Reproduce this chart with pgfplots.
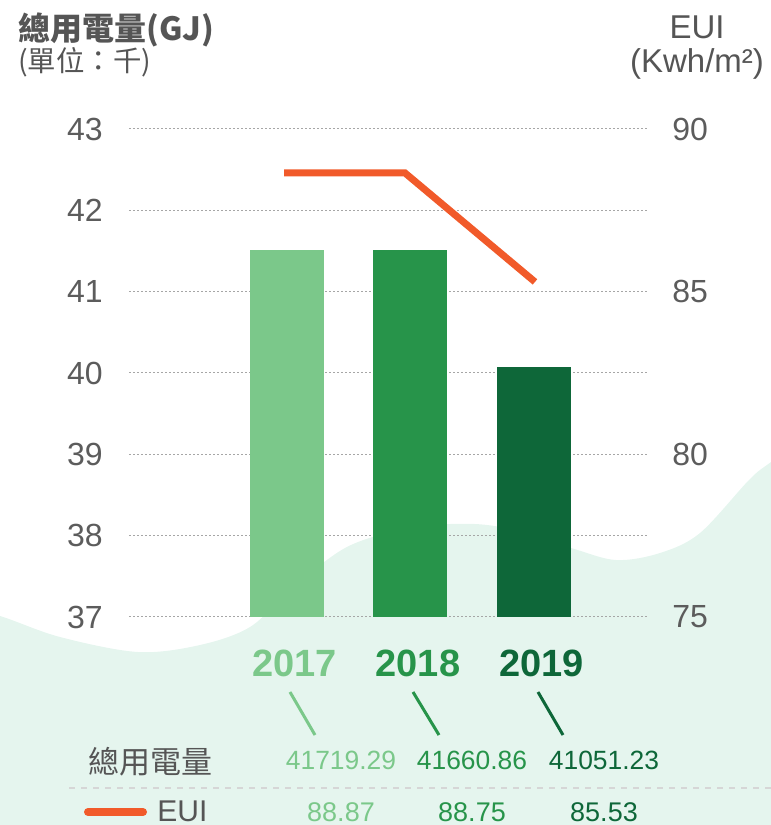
\documentclass[border=0pt]{standalone}
\usepackage{pgfplots}
\pgfplotsset{compat=1.18}
\usepackage{fontspec}
\setmainfont{Liberation Sans}
\newfontfamily\cjk{Noto Sans CJK TC}

\definecolor{gA}{HTML}{7BC88A}
\definecolor{gB}{HTML}{27944A}
\definecolor{gC}{HTML}{0E6739}
\definecolor{eui}{HTML}{F15A2A}
\definecolor{wave}{HTML}{E5F5EE}
\definecolor{tgray}{HTML}{555555}
\definecolor{tick}{HTML}{5C5C5C}
\definecolor{sep}{HTML}{D6D6D6}

\begin{document}
\begin{tikzpicture}
\clip (0,0) rectangle (385.5pt,412.5pt);

% background wave and table, in pixel coordinates of the page
\begin{axis}[at={(0,0)}, anchor=south west, scale only axis,
    width=385.5pt, height=412.5pt,
    xmin=0, xmax=771, ymin=0, ymax=825, y dir=reverse,
    hide axis, clip=false]
\addplot[fill=wave, draw=none, smooth, tension=0.55] coordinates {
(-60,600)(0,616)(60,637)(138,652)(200,645)(250,627)(290,590)(345,548)
(400,530)(450,524)(500,527)(571,548)(616,560)(660,553)(700,533)(749,480)
(771,462)(830,420)(840,900)(-60,900)};
% leader lines
\addplot[gA, line width=1.5pt] coordinates {(290,692)(315,735)};
\addplot[gB, line width=1.5pt] coordinates {(413,692)(439,735)};
\addplot[gC, line width=1.5pt] coordinates {(538,692)(563,735)};
% separator
\addplot[sep, dashed, line width=0.6pt] coordinates {(69,788)(771,788)};
% legend line for EUI
\addplot[eui, line width=4pt, line cap=round] coordinates {(88,812)(143,812)};

% titles
\node[anchor=base west, inner sep=0, text=tgray, font=\fontsize{16}{16}\selectfont\cjk\bfseries]
  at (axis cs:18,40) {總用電量(GJ)};
\node[anchor=base west, inner sep=0, text=tgray, font=\fontsize{14.2}{14.2}\selectfont\cjk]
  at (axis cs:18,71) {(單位：千)};
\node[anchor=base, inner sep=0, text=tgray, font=\fontsize{16.5}{16.5}\selectfont]
  at (axis cs:697,38) {EUI};
\node[anchor=base, inner sep=0, text=tgray, font=\fontsize{16.5}{16.5}\selectfont]
  at (axis cs:697,72) {(Kwh/m²)};

% table rows
\node[anchor=west, inner sep=0, text=tgray, font=\fontsize{15.5}{15.5}\selectfont\cjk]
  at (axis cs:88,762) {總用電量};
\node[anchor=base, inner sep=0, text=gA, font=\fontsize{13.2}{13.2}\selectfont] at (axis cs:341,769) {41719.29};
\node[anchor=base, inner sep=0, text=gB, font=\fontsize{13.2}{13.2}\selectfont] at (axis cs:472,769) {41660.86};
\node[anchor=base, inner sep=0, text=gC, font=\fontsize{13.2}{13.2}\selectfont] at (axis cs:604,769) {41051.23};
\node[anchor=base west, inner sep=0, text=tgray, font=\fontsize{15}{15}\selectfont]
  at (axis cs:157,821) {EUI};
\node[anchor=base, inner sep=0, text=gA, font=\fontsize{13.5}{13.5}\selectfont] at (axis cs:341,821) {88.87};
\node[anchor=base, inner sep=0, text=gB, font=\fontsize{13.5}{13.5}\selectfont] at (axis cs:472,821) {88.75};
\node[anchor=base, inner sep=0, text=gC, font=\fontsize{13.5}{13.5}\selectfont] at (axis cs:604,821) {85.53};
\end{axis}

% bars: total electricity (thousand GJ)
\begin{axis}[at={(64.5pt,104pt)}, anchor=south west, scale only axis,
    width=259.5pt, height=244pt,
    xmin=-1.279, xmax=2.923, ymin=37, ymax=43,
    ytick={37,38,...,43},
    xtick={0,1,2},
    xticklabels={\textcolor{gA}{2017},\textcolor{gB}{2018},\textcolor{gC}{2019}},
    axis line style={draw=none}, major tick length=0,
    ymajorgrids, grid style={gray!70, line width=0.5pt, dash pattern=on 1pt off 1pt},
    /pgf/number format/assume math mode=true,
    yticklabel style={anchor=east, inner sep=0pt, xshift=-13pt, text=tick,
        font=\fontsize{16}{16}\selectfont},
    xticklabel style={anchor=north, inner sep=0pt, yshift=-16.5pt, xshift=3.7pt,
        font=\fontsize{19}{19}\selectfont\bfseries},
]
\addplot[ybar, bar width=37pt, bar shift=0pt, fill=gA, draw=none] coordinates {(0,41.51)};
\addplot[ybar, bar width=37pt, bar shift=0pt, fill=gB, draw=none] coordinates {(1,41.51)};
\addplot[ybar, bar width=37pt, bar shift=0pt, fill=gC, draw=none] coordinates {(2,40.07)};
\end{axis}

% EUI line
\begin{axis}[at={(64.5pt,104pt)}, anchor=south west, scale only axis,
    width=259.5pt, height=244pt,
    xmin=-1.279, xmax=2.923, ymin=75, ymax=90,
    ytick={75,80,85,90}, xtick=\empty,
    yticklabel pos=right,
    axis line style={draw=none}, major tick length=0,
    /pgf/number format/assume math mode=true,
    yticklabel style={anchor=west, inner sep=0pt, xshift=12pt, text=tick,
        font=\fontsize{16}{16}\selectfont},
]
\addplot[eui, line width=3.5pt] coordinates {(-0.024,88.65)(0.955,88.65)(2.008,85.3)};
\end{axis}
\end{tikzpicture}
\end{document}
